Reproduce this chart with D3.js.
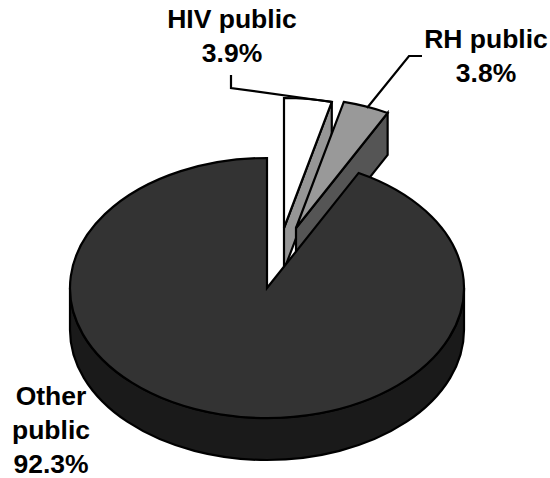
<!DOCTYPE html>
<html>
<head>
<meta charset="utf-8">
<script src="https://cdn.jsdelivr.net/npm/d3@7"></script>
<style>
  html, body { margin: 0; padding: 0; background: #fff; }
  svg { display: block; }
  text { font-family: "Liberation Sans", Arial, sans-serif; font-weight: bold; font-size: 26.5px; fill: #000; text-anchor: middle; }
</style>
</head>
<body>
<svg id="chart" width="550" height="478"></svg>
<script>
const categories = ["HIV public", "RH public", "Other public"];
const shares = [3.9, 3.8, 92.3];
const topColors = ["#ffffff", "#999999", "#333333"];
const cutColors = ["#969696", "#555555", "#333333"];
const wallColor = "#1a1a1a";

// Pie centres: the two small slices are pulled away from the main body.
const centres = [[284, 228], [296, 228], [267, 288]];
const rx = 197, ry = 130, depth = 42;

const labelLines = [["HIV public", "3.9%"], ["RH public", "3.8%"], ["Other", "public", "92.3%"]];
const labelAnchors = [[232, 28], [486, 48], [51, 405]];
const lineStep = 34;
const leaders = [
  [[231, 75], [231, 88], [332, 102]],
  [[367, 108], [409, 56], [422, 56]]
];

const svg = d3.select("#chart");
const slices = d3.pie().sort(null).value(d => d)(shares);

// Angles run clockwise from twelve o'clock on a flattened ellipse.
const sx = d3.scaleLinear().domain([-1, 1]).range([-rx, rx]);
const sy = d3.scaleLinear().domain([-1, 1]).range([-ry, ry]);
const rim = (c, a, dy = 0) => [c[0] + sx(Math.sin(a)), c[1] + sy(-Math.cos(a)) + dy];

function topPath(c, s) {
  const p = d3.path();
  const a0 = rim(c, s.startAngle), a1 = rim(c, s.endAngle);
  p.moveTo(c[0], c[1]);
  p.lineTo(a0[0], a0[1]);
  const large = s.endAngle - s.startAngle > Math.PI ? 1 : 0;
  return p.toString() + `A${rx},${ry} 0 ${large} 1 ${a1[0]},${a1[1]}Z`;
}

function cutPath(c, a) {
  const o = rim(c, a);
  return d3.line()([[c[0], c[1]], o, [o[0], o[1] + depth], [c[0], c[1] + depth]]) + "Z";
}

const strokeWidth = 2.2;
const outline = sel => sel.attr("stroke", "#000").attr("stroke-width", strokeWidth).attr("stroke-linejoin", "miter");

// Cut faces of the pulled-out slices, at their clockwise edge, back to front.
[0, 1].forEach(i => {
  const s = slices[i];
  svg.append("path").attr("d", cutPath(centres[i], s.endAngle))
    .attr("fill", cutColors[i]).call(outline);
  svg.append("path").attr("d", topPath(centres[i], s))
    .attr("fill", topColors[i]).call(outline);
});

// Main body: outer wall along the front half, then the top face.
const main = slices[2], mc = centres[2];
const wallR = rim(mc, Math.PI / 2), wallL = rim(mc, 3 * Math.PI / 2);
svg.append("path")
  .attr("d", `M${wallR[0]},${wallR[1]}A${rx},${ry} 0 0 1 ${wallL[0]},${wallL[1]}` +
    `L${wallL[0]},${wallL[1] + depth}A${rx},${ry} 0 0 0 ${wallR[0]},${wallR[1] + depth}Z`)
  .attr("fill", wallColor).call(outline);
svg.append("path").attr("d", topPath(mc, main)).attr("fill", topColors[2]).call(outline);

// Leader lines from the small slices to their labels.
leaders.forEach(pts => {
  svg.append("path").attr("d", d3.line()(pts)).attr("fill", "none").call(outline);
});

labelLines.forEach((lines, i) => {
  const t = svg.append("text").attr("aria-label", categories[i]);
  lines.forEach((l, j) => {
    t.append("tspan").attr("x", labelAnchors[i][0]).attr("y", labelAnchors[i][1] + j * lineStep).text(l);
  });
});
</script>
</body>
</html>
